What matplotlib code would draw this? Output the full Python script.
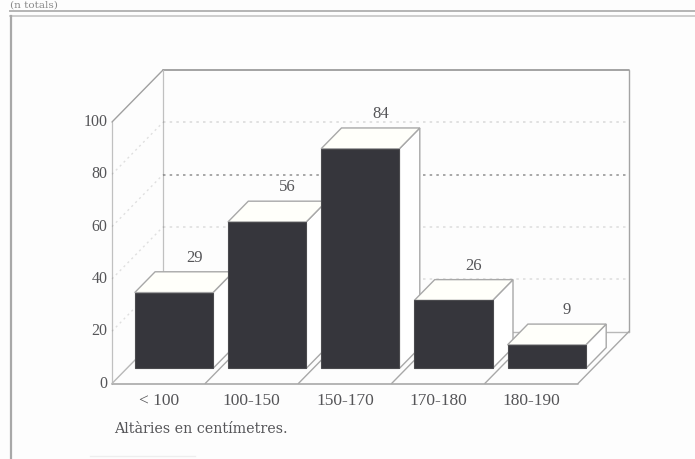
import matplotlib
matplotlib.use('Agg')
from matplotlib import pyplot as plt
from matplotlib.patches import Polygon
from matplotlib.lines import Line2D

categories = ['< 100', '100-150', '150-170', '170-180', '180-190']
values = [29, 56, 84, 26, 9]
yticks = [0, 20, 40, 60, 80, 100]
# how strong the dotted lines print at each tick
back_alpha = [0, 0.22, 0.22, 0.75, 0.25, 0]
side_alpha = [0, 0.22, 0.22, 0.22, 0.22, 0]
caption = 'Altàries en centímetres.'

W, H = 695, 459
plt.rcParams['font.family'] = ['Liberation Serif', 'DejaVu Serif']
TEXT = '#555558'
DARK = '#36363c'

fig = plt.figure(figsize=(W / 100, H / 100), dpi=100, facecolor='#fdfdfd')
# axes spans the front floor edge: 0-5 categories across, 0-100 up
ax = fig.add_axes([112 / W, 1 - 383.5 / H, 466 / W, 261.5 / H])
ax.set_xlim(0, 5)
ax.set_ylim(0, 100)
ax.axis('off')
ax.patch.set_alpha(0)

# oblique depth, in data units per unit of depth (1 = back wall)
DX = 51 / 93.2
DY = 52 / 2.615


def proj(x, v, d=0.0):
    return x + DX * d, v + DY * d


def seg(p, q, **kw):
    kw.setdefault('color', '#a8a8a8')
    kw.setdefault('lw', 1.0)
    ax.plot([p[0], q[0]], [p[1], q[1]], clip_on=False, solid_capstyle='round', **kw)


# walls
TOP = 100
seg(proj(0, 0), proj(0, TOP), lw=0.9, color='#c0c0c0')
seg(proj(0, TOP), proj(0, TOP, 1), color='#a0a0a0')
seg(proj(0, TOP, 1), proj(5, TOP, 1), color='#949494', lw=1.2)
seg(proj(0, 0, 1), proj(0, TOP, 1), lw=0.9, color='#c0c0c0')
seg(proj(5, 0, 1), proj(5, TOP, 1), color='#a4a4a4')
seg(proj(0, 0, 1), proj(5, 0, 1), color='#b8b8b8')
seg(proj(0, 0), proj(5, 0), color='#a8a8a8', lw=1.2)
seg(proj(0, 0), proj(0, 0, 1), color='#b8b8b8')
seg(proj(5, 0), proj(5, 0, 1), color='#a8a8a8')

# dotted gridlines on side and back walls
for t, a, s in zip(yticks, back_alpha, side_alpha):
    if a > 0:
        seg(proj(0, t, 1), proj(5, t, 1), color='#777777', alpha=a, lw=1.2, ls=(0, (1.5, 2.5)))
    if s > 0:
        seg(proj(0, t), proj(0, t, 1), color='#777777', alpha=s, lw=1.0, ls=(0, (1.5, 2.5)))

# category separators on the floor
for i in range(1, 5):
    seg(proj(i, 0), proj(i, 0, 0.45))

BW = 0.84
D0, D1 = 0.29, 0.69
for i, v in enumerate(values):
    x0 = i + 0.085
    x1 = x0 + BW
    front = [proj(x0, 0, D0), proj(x1, 0, D0), proj(x1, v, D0), proj(x0, v, D0)]
    top = [proj(x0, v, D0), proj(x1, v, D0), proj(x1, v, D1), proj(x0, v, D1)]
    side = [proj(x1, 0, D0), proj(x1, 0, D1), proj(x1, v, D1), proj(x1, v, D0)]
    ax.add_patch(Polygon(side, closed=True, fc='white', ec='#a8a8a8', lw=1.0, clip_on=False, zorder=3 + i))
    ax.add_patch(Polygon(top, closed=True, fc='#fffffa', ec='#a8a8a8', lw=1.0, clip_on=False, zorder=3 + i))
    ax.add_patch(Polygon(front, closed=True, fc=DARK, ec='#4a4a4e', lw=0.8, clip_on=False, zorder=3.5 + i))
    lx, ly = proj((x0 + x1) / 2, v, D1)
    ax.text(lx, ly + 2.2, str(v), ha='center', va='bottom', fontsize=12, color=TEXT, zorder=10)

# tick labels
for t in yticks:
    ax.text(-0.05, t, str(t), ha='right', va='center', fontsize=11.5, color=TEXT, clip_on=False)
for i, c in enumerate(categories):
    ax.text(i + 0.5, -3.6, c, ha='center', va='top', fontsize=12.5, color=TEXT, clip_on=False)
ax.text(0.02, -14.7, caption, ha='left', va='top', fontsize=10.3, color=TEXT, clip_on=False,
        family='DejaVu Serif')


# printed frame around the figure, and the line above it
def fline(x0, y0, x1, y1, **kw):
    fig.add_artist(Line2D([x0 / W, x1 / W], [1 - y0 / H, 1 - y1 / H], **kw))


fline(10, 11, W, 11, color='#b5b5b5', lw=1.4)
fline(10, 16, W, 16, color='#c5c5c5', lw=1.2)
fline(11, 16, 11, H, color='#a8a8a8', lw=1.6)
fline(90, 456, 195, 456, color='#eeeeee', lw=1.0)
fig.text(10 / W, 1 - 0.5 / H, '(n totals)', ha='left', va='top', fontsize=7.5, color='#8a8a8a',
         family='DejaVu Serif')

fig.savefig('out.png', dpi=100, facecolor=fig.get_facecolor())
